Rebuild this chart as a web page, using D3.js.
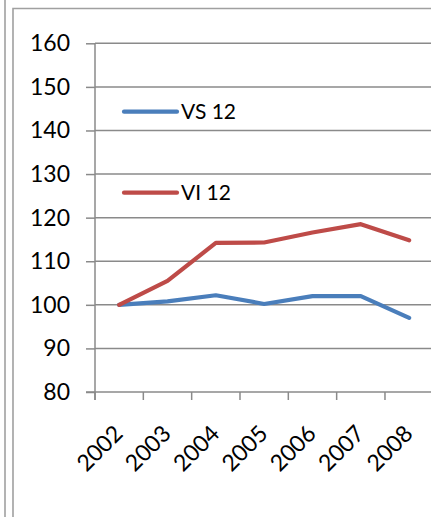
<!DOCTYPE html>
<html>
<head>
<meta charset="utf-8">
<script src="https://cdn.jsdelivr.net/npm/d3@7"></script>
<style>
  body { margin: 0; background: #fff; }
  text { font-family: Lato, "Liberation Sans", sans-serif; fill: #000; }
</style>
</head>
<body>
<script>
// data
var years = ["2002", "2003", "2004", "2005", "2006", "2007", "2008"];
var vs12 = [100, 100.8, 102.2, 100.2, 102, 102, 97];
var vi12 = [100, 105.5, 114.2, 114.3, 116.6, 118.5, 114.8];
var seriesNames = ["VS 12", "VI 12"];
var yTicks = [80, 90, 100, 110, 120, 130, 140, 150, 160];

const W = 431, H = 517;
const plotLeft = 95, plotTop = 43.3, plotBottom = 392, step = 48.33;
const grey = "#8a8a8a";
const colors = ["#4a7ebb", "#be4b48"];

const svg = d3.select("body").append("svg")
  .attr("width", W).attr("height", H);

// outer frame lines
svg.append("line").attr("x1", 5).attr("x2", 5).attr("y1", 0).attr("y2", H)
  .attr("stroke", "#a0a0a0").attr("stroke-width", 1.6);
svg.append("path").attr("d", "M13,517 V8.5 H431")
  .attr("fill", "none").attr("stroke", "#a0a0a0").attr("stroke-width", 1.6);

var x = d3.scaleBand().domain(years).range([plotLeft, plotLeft + step * years.length]);
var y = d3.scaleLinear().domain([80, 160]).range([plotBottom, plotTop]);

// gridlines + y axis
var yAxis = svg.append("g")
  .attr("transform", "translate(" + plotLeft + ",0)")
  .call(d3.axisLeft(y).tickValues(yTicks).tickSize(9).tickPadding(16).tickFormat(d3.format("d")));
yAxis.select(".domain").remove();
yAxis.selectAll(".tick line").attr("stroke", grey).attr("stroke-width", 1.5);
yAxis.selectAll(".tick text").attr("font-size", 23).attr("font-family", "Lato");

svg.append("g").selectAll("line")
  .data(yTicks.slice(1))
  .enter().append("line")
  .attr("x1", plotLeft).attr("x2", W)
  .attr("y1", d => y(d)).attr("y2", d => y(d))
  .attr("stroke", grey).attr("stroke-width", 1.5);

svg.append("line").attr("x1", plotLeft).attr("x2", plotLeft)
  .attr("y1", plotTop).attr("y2", plotBottom + 8)
  .attr("stroke", grey).attr("stroke-width", 1.5);

// x axis
svg.append("line").attr("x1", plotLeft - 9).attr("x2", W)
  .attr("y1", plotBottom).attr("y2", plotBottom)
  .attr("stroke", grey).attr("stroke-width", 1.5);
svg.append("g").selectAll("line")
  .data(years)
  .enter().append("line")
  .attr("x1", d => x(d)).attr("x2", d => x(d))
  .attr("y1", plotBottom).attr("y2", plotBottom + 8)
  .attr("stroke", grey).attr("stroke-width", 1.5);
svg.append("g").selectAll("text")
  .data(years)
  .enter().append("text")
  .attr("transform", d => "translate(" + (x(d) + x.bandwidth() / 2 + 5) + "," + (plotBottom + 43) + ") rotate(-45)")
  .attr("text-anchor", "end")
  .attr("font-size", 23)
  .text(d => d);

// lines
var line = d3.line()
  .x((d, i) => x(years[i]) + x.bandwidth() / 2)
  .y(d => y(d));

[vs12, vi12].forEach(function(s, i) {
  svg.append("path")
    .attr("d", line(s))
    .attr("fill", "none")
    .attr("stroke", colors[i])
    .attr("stroke-width", 4.2)
    .attr("stroke-linejoin", "round")
    .attr("stroke-linecap", "round");
});

// legend
var legY = [111.7, 192.7];
seriesNames.forEach(function(name, i) {
  svg.append("line")
    .attr("x1", 124).attr("x2", 177)
    .attr("y1", legY[i]).attr("y2", legY[i])
    .attr("stroke", colors[i]).attr("stroke-width", 4.2)
    .attr("stroke-linecap", "round");
  svg.append("text")
    .attr("x", 181).attr("y", legY[i])
    .attr("dy", "0.36em")
    .attr("font-size", 21)
    .text(name);
});
</script>
</body>
</html>
